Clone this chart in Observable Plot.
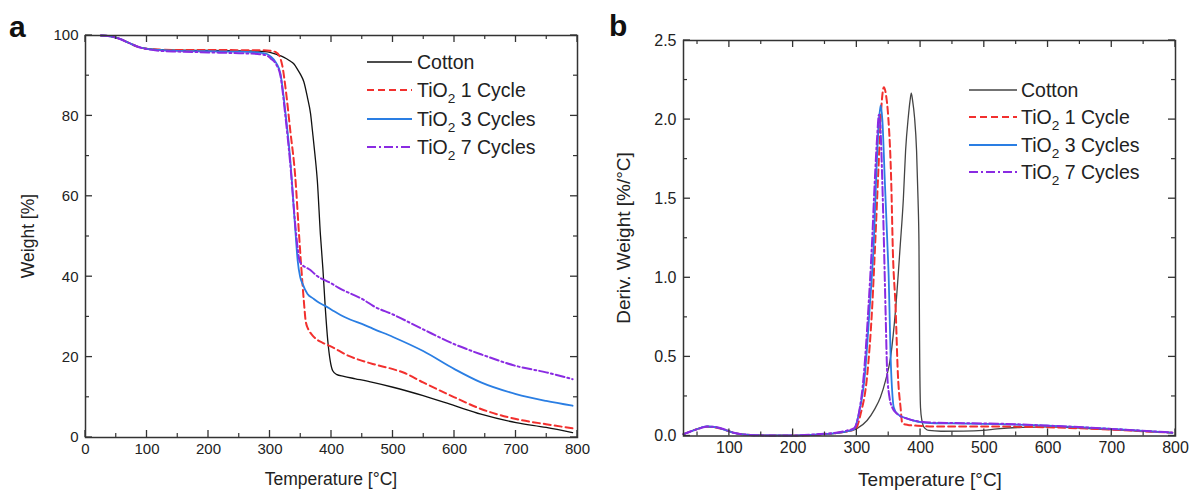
<!DOCTYPE html>
<html>
<head>
<meta charset="utf-8">
<script src="https://cdn.jsdelivr.net/npm/d3@7"></script>
<script src="https://cdn.jsdelivr.net/npm/@observablehq/plot@0.6"></script>
<style>
  body { margin: 0; background: #fff; }
  #root { position: relative; width: 1191px; height: 493px; overflow: hidden; background: #fff;
          font-family: "Liberation Sans", Arial, sans-serif; }
  #root > svg { position: absolute; top: 0; }
</style>
</head>
<body>
<div id="root"></div>
<script>
// ---------- Series names ----------
const seriesNames = ["Cotton", "TiO2 1 Cycle", "TiO2 3 Cycles", "TiO2 7 Cycles"];

// ---------- Panel a: TGA weight [%] ----------
const tgaT_cotton = [25,40,55,70,85,100,120,150,200,250,280,300,312,322,332,339,345,350,355,361,366,369,373,377,382,386,390,394,398,402,408,420,439,467,500,549,600,643,700,749,792];
const tgaW_cotton = [100,99.8,99.2,98.2,97.2,96.7,96.45,96.35,96.3,96.2,96.1,95.8,95.2,94.6,93.7,92.9,91.5,90.2,88.5,84.5,80.5,76.3,70.5,63.8,50.4,42,32,24,19,16.6,15.7,15.2,14.6,13.7,12.5,10.4,7.9,5.8,3.7,2.5,1.2];

const tgaT_1c = [25,40,55,70,85,100,120,150,200,250,290,300,310,315,320,326,333,341,347,351,355,358,362,368,375,385,397,428,467,500,518,549,600,643,700,749,792];
const tgaW_1c = [100,99.8,99.2,98.2,97.2,96.7,96.5,96.4,96.4,96.35,96.3,96.2,95.8,95.0,92.5,86,76.3,65,51,42,34,29,27,25.6,24.5,23.6,22.8,20.3,18.3,17,16.1,13.7,10,7.1,4.6,3.3,2.3];

const tgaT_3c = [25,40,55,70,85,100,120,150,200,250,280,295,301,310,317,325,333,341,345,349,353,361,370,380,389,400,422,455,467,500,549,600,643,700,749,792];
const tgaW_3c = [100,99.8,99.2,98.2,97.2,96.7,96.4,96.2,96.1,96.0,95.8,95.4,94.8,93.2,90.5,81,69,52,44,40,38.2,35.7,34.6,33.5,32.8,31.8,29.9,27.9,27.1,25,21.5,17,13.7,10.8,9.1,7.9];

const tgaT_7c = [25,40,55,70,85,100,120,150,200,250,280,295,301,310,317,325,333,341,345,348,352,360,367,374,400,411,455,467,500,549,600,643,700,749,792];
const tgaW_7c = [100,99.8,99.2,98.2,97.2,96.6,96.2,96.0,95.8,95.6,95.4,95.0,94.3,92.8,90,80,68,53,47,44,43,42.2,41.5,40.5,38.3,37.3,34,32.8,30.6,26.9,23.2,20.7,17.8,16.2,14.5];

// ---------- Panel b: derivative weight [%/°C] ----------
const dtgT_cotton = [28,40,55,65,80,92,107,128,150,200,240,270,285,300,316,328,337,345,353,361,368,373,376.5,380.7,383.5,385.4,387.5,390.5,393.7,396,397.5,398.4,399.9,402,404,408,413,432,467,498,520,560,600,650,700,750,795];
const dtgD_cotton = [0.01,0.03,0.052,0.06,0.055,0.04,0.02,0.008,0.004,0.003,0.008,0.018,0.028,0.047,0.098,0.17,0.245,0.35,0.5,0.81,1.2,1.5,1.805,2.015,2.12,2.167,2.12,2.015,1.805,1.5,1.2,0.6,0.18,0.1,0.066,0.045,0.035,0.03,0.031,0.036,0.045,0.055,0.058,0.05,0.04,0.03,0.02];

const dtgT_1c = [28,40,55,65,80,92,107,128,150,200,240,270,285,298,306,316.4,324,329,334,338,342.4,346,349.3,354,356.5,360.8,364.4,368.6,371.3,380,395,431,470,520,600,700,795];
const dtgD_1c = [0.012,0.03,0.05,0.058,0.052,0.04,0.02,0.008,0.004,0.003,0.008,0.02,0.03,0.045,0.14,0.39,0.81,1.236,1.7,2.05,2.205,2.15,2.015,1.6,1.17,0.81,0.39,0.18,0.08,0.07,0.065,0.06,0.06,0.06,0.055,0.04,0.02];

const dtgT_3c = [28,40,55,65,80,92,107,128,150,200,240,270,285,296,303,312.7,320,326.7,331,334,337.2,340,344,347.7,350,353,356,358,363.4,379,415,450,520,598,700,781,795];
const dtgD_3c = [0.012,0.03,0.052,0.06,0.055,0.04,0.02,0.008,0.004,0.003,0.01,0.02,0.03,0.045,0.14,0.39,0.8,1.236,1.7,1.95,2.09,2.0,1.6,1.236,1.0,0.5,0.25,0.18,0.14,0.11,0.082,0.08,0.075,0.066,0.045,0.024,0.02];

const dtgT_7c = [28,40,55,65,80,92,107,128,150,200,240,270,285,296,303,311,318,324,328,332,334.6,337,340,342.4,345,347.7,351,355.6,363.4,379,415,450,520,598,700,795];
const dtgD_7c = [0.012,0.03,0.05,0.06,0.056,0.042,0.02,0.008,0.004,0.003,0.012,0.022,0.035,0.05,0.14,0.39,0.8,1.236,1.6,1.9,2.03,1.95,1.6,1.236,0.8,0.39,0.25,0.18,0.14,0.11,0.085,0.082,0.078,0.066,0.045,0.022];

// ---------- Ticks ----------
const aXMajor = [0,100,200,300,400,500,600,700,800];
const aXMinor = [50,150,250,350,450,550,650,750];
const aYMajor = [0,20,40,60,80,100];
const aYMinor = [10,30,50,70,90];
const bXMajor = [100,200,300,400,500,600,700,800];
const bXMinor = [50,150,250,350,450,550,650,750];
const bYMajor = [0,0.5,1.0,1.5,2.0,2.5];
const bYMinor = [0.25,0.75,1.25,1.75,2.25];

// ---------- Styles ----------
const seriesStyle = {
  "Cotton":        {stroke: "#111111", strokeWidth: 1.3, dash: null},
  "TiO2 1 Cycle":  {stroke: "#f2302e", strokeWidth: 2.0, dash: "7,4"},
  "TiO2 3 Cycles": {stroke: "#2a7ee3", strokeWidth: 1.8, dash: null},
  "TiO2 7 Cycles": {stroke: "#8a2be2", strokeWidth: 2.0, dash: "9,3,2,3"}
};
const cottonStrokeB = "#444444";

const rows = (name, T, V) => T.map((t, i) => ({name, t, v: V[i]}));

const dataA = {
  "Cotton": rows("Cotton", tgaT_cotton, tgaW_cotton),
  "TiO2 1 Cycle": rows("TiO2 1 Cycle", tgaT_1c, tgaW_1c),
  "TiO2 3 Cycles": rows("TiO2 3 Cycles", tgaT_3c, tgaW_3c),
  "TiO2 7 Cycles": rows("TiO2 7 Cycles", tgaT_7c, tgaW_7c)
};
const dataB = {
  "Cotton": rows("Cotton", dtgT_cotton, dtgD_cotton),
  "TiO2 1 Cycle": rows("TiO2 1 Cycle", dtgT_1c, dtgD_1c),
  "TiO2 3 Cycles": rows("TiO2 3 Cycles", dtgT_3c, dtgD_3c),
  "TiO2 7 Cycles": rows("TiO2 7 Cycles", dtgT_7c, dtgD_7c)
};

function labelAxes(xMaj, yMaj, yFmt, fs) {
  return [
    Plot.axisX({anchor: "bottom", ticks: xMaj, tickSize: 0, tickPadding: 6, tickFormat: d => String(d), label: null, fontSize: fs, fill: "#222"}),
    Plot.axisY({anchor: "left", ticks: yMaj, tickSize: 0, tickPadding: 7, tickFormat: yFmt, label: null, fontSize: fs, fill: "#222"})
  ];
}

function seriesLines(data, cottonColor) {
  return seriesNames.map(n => {
    const s = seriesStyle[n];
    return Plot.line(data[n], {
      x: "t", y: "v", curve: "monotone-x",
      stroke: n === "Cotton" && cottonColor ? cottonColor : s.stroke,
      strokeWidth: s.strokeWidth,
      strokeDasharray: s.dash || undefined
    });
  });
}

const plotStyle = {fontFamily: '"Liberation Sans", Arial, sans-serif', color: "#222", background: "transparent", overflow: "visible"};

const plotA = Plot.plot({
  width: 600, height: 493,
  marginLeft: 85, marginRight: 23, marginTop: 35, marginBottom: 56,
  x: {domain: [0, 800]},
  y: {domain: [0, 100]},
  style: plotStyle,
  marks: [
    ...seriesLines(dataA, null),
    ...labelAxes(aXMajor, aYMajor, d => String(d), 15),
    Plot.frame({stroke: "#333", strokeWidth: 1.5})
  ]
});
plotA.style.left = "0px";

const plotB = Plot.plot({
  width: 601, height: 493,
  marginLeft: 93, marginRight: 16, marginTop: 40, marginBottom: 57.5,
  x: {domain: [28, 800]},
  y: {domain: [0, 2.5]},
  style: plotStyle,
  marks: [
    ...seriesLines(dataB, cottonStrokeB),
    ...labelAxes(bXMajor, bYMajor, d3.format(".1f"), 16),
    Plot.frame({stroke: "#333", strokeWidth: 1.5})
  ]
});
plotB.style.left = "590px";

const root = document.getElementById("root");
root.appendChild(plotA);
root.appendChild(plotB);

// ---------- Overlay: inward frame ticks, panel letters, axis titles, legends ----------
const NS = "http://www.w3.org/2000/svg";
const ov = document.createElementNS(NS, "svg");
ov.setAttribute("width", 1191); ov.setAttribute("height", 493);
ov.style.position = "absolute"; ov.style.left = "0px"; ov.style.top = "0px";
ov.style.fontFamily = '"Liberation Sans", Arial, sans-serif';
root.appendChild(ov);

function seg(x1, y1, x2, y2, sw) {
  const l = document.createElementNS(NS, "line");
  l.setAttribute("x1", x1); l.setAttribute("y1", y1);
  l.setAttribute("x2", x2); l.setAttribute("y2", y2);
  l.setAttribute("stroke", "#333"); l.setAttribute("stroke-width", sw);
  ov.appendChild(l);
}
// tick positions come from the plot's own scales
function frameTicks(plot, off, xMaj, xMin, yMaj, yMin) {
  const sx = plot.scale("x"), sy = plot.scale("y");
  const xl = off + Math.min(...sx.range), xr = off + Math.max(...sx.range);
  const yt = Math.min(...sy.range), yb = Math.max(...sy.range);
  for (const [ticks, len, sw] of [[xMaj, 7, 1.3], [xMin, 4, 1.2]]) {
    for (const v of ticks) {
      const x = off + sx.apply(v);
      seg(x, yb, x, yb - len, sw);
      seg(x, yt, x, yt + len, sw);
    }
  }
  for (const [ticks, len, sw] of [[yMaj, 7, 1.3], [yMin, 4, 1.2]]) {
    for (const v of ticks) {
      const y = sy.apply(v);
      seg(xl, y, xl + len, y, sw);
      seg(xr, y, xr - len, y, sw);
    }
  }
}
frameTicks(plotA, 0, aXMajor, aXMinor, aYMajor, aYMinor);
frameTicks(plotB, 590, bXMajor, bXMinor, bYMajor, bYMinor);

function txt(str, x, y, opts = {}) {
  const t = document.createElementNS(NS, "text");
  t.setAttribute("x", x); t.setAttribute("y", y);
  t.setAttribute("font-size", opts.size || 18);
  if (opts.weight) t.setAttribute("font-weight", opts.weight);
  t.setAttribute("text-anchor", opts.anchor || "start");
  t.setAttribute("fill", opts.fill || "#222");
  if (opts.transform) t.setAttribute("transform", opts.transform);
  t.textContent = str;
  ov.appendChild(t);
  return t;
}
function legendLabel(name, x, y, size) {
  const t = document.createElementNS(NS, "text");
  t.setAttribute("x", x); t.setAttribute("y", y);
  t.setAttribute("font-size", size); t.setAttribute("fill", "#222");
  const m = name.match(/^TiO2 (.*)$/);
  if (m) {
    const a = document.createElementNS(NS, "tspan"); a.textContent = "TiO"; t.appendChild(a);
    const b = document.createElementNS(NS, "tspan"); b.textContent = "2";
    b.setAttribute("font-size", size * 0.7); b.setAttribute("dy", size * 0.3); t.appendChild(b);
    const c = document.createElementNS(NS, "tspan"); c.textContent = " " + m[1];
    c.setAttribute("dy", -size * 0.3); t.appendChild(c);
  } else t.textContent = name;
  ov.appendChild(t);
}
function legend(x0, x1, tx, rowsY, size, cottonColor) {
  seriesNames.forEach((n, i) => {
    const s = seriesStyle[n];
    const l = document.createElementNS(NS, "line");
    l.setAttribute("x1", x0); l.setAttribute("x2", x1);
    l.setAttribute("y1", rowsY[i]); l.setAttribute("y2", rowsY[i]);
    l.setAttribute("stroke", n === "Cotton" && cottonColor ? cottonColor : s.stroke);
    l.setAttribute("stroke-width", s.strokeWidth);
    if (s.dash) l.setAttribute("stroke-dasharray", s.dash);
    ov.appendChild(l);
    legendLabel(n, tx, rowsY[i] + size * 0.35, size);
  });
}

txt("a", 9, 37, {size: 30, weight: "bold", fill: "#111"});
txt("b", 609, 36, {size: 30, weight: "bold", fill: "#111"});
txt("Temperature [°C]", 331, 485, {size: 17.5, anchor: "middle"});
txt("Temperature [°C]", 930, 486, {size: 19, anchor: "middle"});
txt("Weight [%]", 0, 0, {size: 17.5, anchor: "middle", transform: "translate(33.5,236) rotate(-90)"});
txt("Deriv. Weight [%/°C]", 0, 0, {size: 19, anchor: "middle", transform: "translate(629.5,238) rotate(-90)"});

legend(367, 412, 417, [62, 90, 119, 147], 19.5, null);
legend(969, 1017, 1021, [90, 117, 145, 172], 19.5, cottonStrokeB);
</script>
</body>
</html>
